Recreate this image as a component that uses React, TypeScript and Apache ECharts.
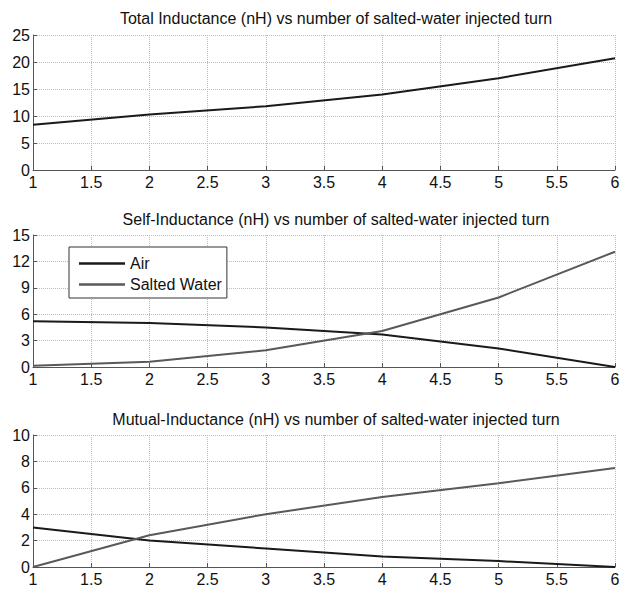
import React, { useEffect, useRef } from "react";
import * as echarts from "echarts";

const turns = [1, 2, 3, 4, 5, 6];
const totalInductance = [8.4, 10.3, 11.8, 14.0, 17.0, 20.7];
const selfAir = [5.2, 5.0, 4.5, 3.7, 2.1, 0];
const selfSalted = [0.15, 0.6, 1.9, 4.1, 7.9, 13.1];
const mutualAir = [3.0, 2.0, 1.4, 0.8, 0.45, 0];
const mutualSalted = [0, 2.4, 4.0, 5.3, 6.35, 7.5];

const titles = [
  "Total Inductance (nH) vs number of salted-water injected turn",
  "Self-Inductance (nH) vs number of salted-water injected turn",
  "Mutual-Inductance (nH) vs number of salted-water injected turn",
];
const yMax = [25, 15, 10];
const yInterval = [5, 3, 2];

const AIR = "#1a1a1a";
const SALT = "#595959";
const FONT = "'Liberation Sans', Arial, sans-serif";

const pairs = (ys: number[]) => turns.map((t, i) => [t, ys[i]]);

export default function App() {
  const ref = useRef<HTMLDivElement>(null);
  useEffect(() => {
    if (!ref.current) return;
    const chart = echarts.init(ref.current, null, { renderer: "svg" });
    const gridTops = [35, 235, 435];
    const gridHeights = [135, 132, 132];
    const titleTops = [5, 206, 406];

    const xAxis = gridTops.map((_, i) => ({
      type: "value",
      gridIndex: i,
      min: 1,
      max: 6,
      interval: 0.5,
      axisLine: { show: true, onZero: false, lineStyle: { color: "#555", width: 1 } },
      axisTick: { show: true, inside: true, length: 4, lineStyle: { color: "#555" } },
      axisLabel: { color: "#111", fontSize: 16, fontFamily: FONT, margin: 4 },
      splitLine: { show: true, lineStyle: { type: "dotted", color: "#bdbdbd", width: 1 } },
    }));
    const yAxis = gridTops.map((_, i) => ({
      type: "value",
      gridIndex: i,
      min: 0,
      max: yMax[i],
      interval: yInterval[i],
      axisLine: { show: true, lineStyle: { color: "#555", width: 1 } },
      axisTick: { show: true, inside: true, length: 4, lineStyle: { color: "#555" } },
      axisLabel: { color: "#111", fontSize: 16, fontFamily: FONT, margin: 3 },
      splitLine: { show: true, lineStyle: { type: "dotted", color: "#bdbdbd", width: 1 } },
    }));

    const lineSeries = (name: string, ys: number[], idx: number, color: string) => ({
      type: "line",
      name,
      xAxisIndex: idx,
      yAxisIndex: idx,
      data: pairs(ys),
      showSymbol: false,
      symbol: "none",
      lineStyle: { color, width: 2 },
      itemStyle: { color },
      z: 3,
    });

    chart.setOption({
      animation: false,
      backgroundColor: "#ffffff",
      title: titles.map((t, i) => ({
        text: t,
        left: 331,
        top: titleTops[i],
        textAlign: "center",
        textStyle: { fontSize: 16, fontWeight: "normal", color: "#111", fontFamily: FONT },
      })),
      grid: gridTops.map((top, i) => ({
        left: 33,
        right: 18,
        top,
        height: gridHeights[i],
        containLabel: false,
      })),
      xAxis,
      yAxis,
      legend: {
        data: [
          { name: "Air", icon: "path://M0,0 L46,0 L46,2.4 L0,2.4 Z" },
          { name: "Salted Water", icon: "path://M0,0 L46,0 L46,2.4 L0,2.4 Z" },
        ],
        orient: "vertical",
        left: 69,
        top: 247,
        padding: [8, 5, 5, 10],
        itemWidth: 46,
        itemHeight: 14,
        itemGap: 4,
        borderColor: "#333",
        borderWidth: 1,
        backgroundColor: "#ffffff",
        selectedMode: false,
        textStyle: { fontSize: 16, color: "#111", fontFamily: FONT, lineHeight: 17 },
      },
      series: [
        lineSeries("Total", totalInductance, 0, AIR),
        lineSeries("Air", selfAir, 1, AIR),
        lineSeries("Salted Water", selfSalted, 1, SALT),
        lineSeries("Air", mutualAir, 2, AIR),
        lineSeries("Salted Water", mutualSalted, 2, SALT),
      ],
    });
    return () => chart.dispose();
  }, []);
  return (
    <div
      ref={ref}
      style={{ position: "fixed", left: 0, top: 0, width: 633, height: 594, background: "#fff" }}
    />
  );
}
